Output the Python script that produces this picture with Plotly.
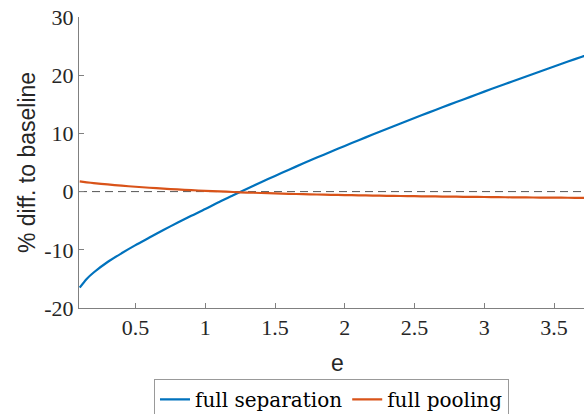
import plotly.graph_objects as go

e_vals = [0.1, 0.15, 0.2, 0.3, 0.4, 0.5, 0.6, 0.7, 0.8, 0.9, 1.0,
          1.1, 1.2, 1.3, 1.4, 1.5, 1.6, 1.7, 1.8, 1.9, 2.0,
          2.1, 2.2, 2.3, 2.4, 2.5, 2.6, 2.7, 2.8, 2.9, 3.0,
          3.1, 3.2, 3.3, 3.4, 3.5, 3.6, 3.7, 3.8]

full_separation = [-16.5, -15.0, -13.9, -12.1, -10.6, -9.2, -7.9, -6.6, -5.35, -4.15, -3.0,
                   -1.77, -0.62, 0.51, 1.62, 2.7, 3.77, 4.81, 5.84, 6.85, 7.85,
                   8.83, 9.8, 10.76, 11.71, 12.64, 13.57, 14.49, 15.39, 16.28, 17.18,
                   18.05, 18.93, 19.79, 20.65, 21.5, 22.34, 23.18, 24.0]

full_pooling = [1.75, 1.6, 1.47, 1.23, 1.02, 0.83, 0.66, 0.51, 0.37, 0.25, 0.13,
                0.03, -0.07, -0.16, -0.24, -0.31, -0.38, -0.44, -0.50, -0.55, -0.60,
                -0.64, -0.68, -0.72, -0.76, -0.79, -0.82, -0.85, -0.88, -0.91, -0.93,
                -0.96, -0.98, -1.00, -1.02, -1.04, -1.06, -1.08, -1.10]

x_ticks = [0.5, 1, 1.5, 2, 2.5, 3, 3.5]
x_tick_labels = ["0.5", "1", "1.5", "2", "2.5", "3", "3.5"]
y_ticks = [-20, -10, 0, 10, 20, 30]
y_tick_labels = ["-20", "-10", "0", "10", "20", "30"]

serif_tick = "Liberation Serif"
serif_leg = "DejaVu Serif"
sans = "Liberation Sans"
axis_gray = "#808080"
text_col = "#262626"

fig = go.Figure()
fig.add_trace(go.Scatter(x=e_vals, y=full_separation, mode="lines",
                         name="full separation",
                         line=dict(color="#0072BD", width=2.2, shape="spline", smoothing=0.8)))
fig.add_trace(go.Scatter(x=e_vals, y=full_pooling, mode="lines",
                         name="full pooling",
                         line=dict(color="#D95319", width=2.2, shape="spline", smoothing=0.8)))
fig.add_hline(y=0, line=dict(color="#555555", width=1, dash="8px,5px"), layer="below")

fig.update_layout(
    width=584, height=414,
    margin=dict(l=79, r=0, t=17, b=106),
    paper_bgcolor="white", plot_bgcolor="white",
    font=dict(family=serif_tick),
    showlegend=True,
    legend=dict(orientation="h", xref="paper", x=0.1485, xanchor="left",
                yref="container", y=0.085, yanchor="top",
                font=dict(family=serif_leg, size=20, color="#000000"),
                bordercolor="#999999", borderwidth=1, bgcolor="white",
                itemwidth=30, tracegroupgap=0),
    xaxis=dict(range=[0.095, 3.715], tickvals=x_ticks, ticktext=x_tick_labels,
               showgrid=False, zeroline=False, showline=True, linecolor=axis_gray,
               linewidth=1, ticks="inside", ticklen=5, tickcolor=axis_gray,
               tickfont=dict(family=serif_tick, size=22, color=text_col)),
    yaxis=dict(range=[-20, 30], tickvals=y_ticks, ticktext=y_tick_labels,
               showgrid=False, zeroline=False, showline=True, linecolor=axis_gray,
               linewidth=1, ticks="inside", ticklen=5, tickcolor=axis_gray,
               tickfont=dict(family=serif_tick, size=22, color=text_col),
               title=dict(text="% diff. to baseline", standoff=2,
                          font=dict(family=sans, size=23, color=text_col))),
    annotations=[dict(text="e", xref="paper", yref="paper", x=0.511, y=-0.19,
                      xanchor="center", yanchor="middle", showarrow=False,
                      font=dict(family=sans, size=23, color=text_col))],
)

fig.write_html("out.html")
